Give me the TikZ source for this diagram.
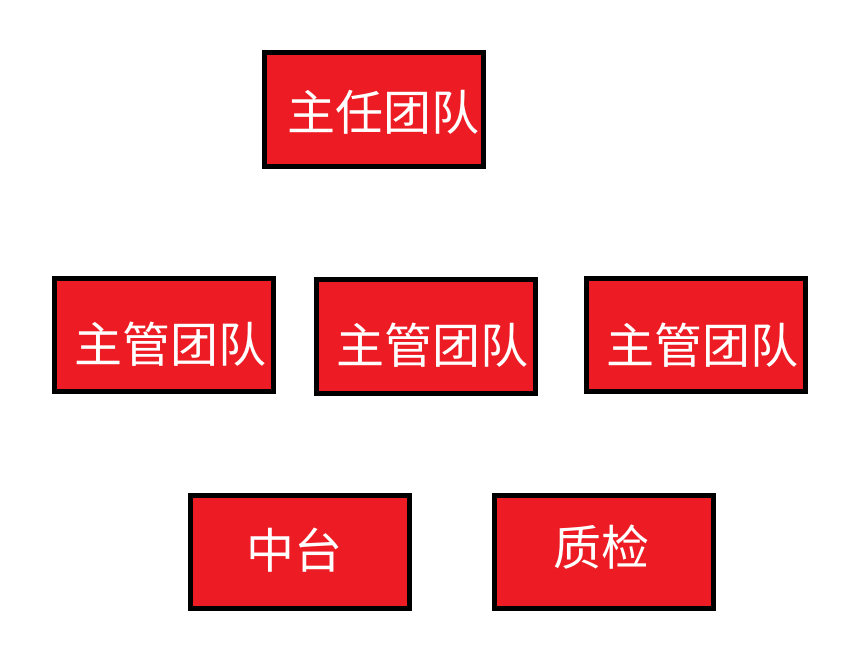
\documentclass[tikz,border=0pt]{standalone}
\usepackage{fontspec}
\newfontfamily\cjk{Noto Sans CJK SC}
\definecolor{boxred}{HTML}{ED1C24}
\begin{document}
\begin{tikzpicture}[x=1pt,y=-1pt,
  redbox/.style={draw=black,line width=5pt,fill=boxred,minimum width=219pt,minimum height=113.5pt,inner sep=0pt,anchor=center},
  boxtext/.style={text=white,font=\cjk\fontsize{48}{52}\selectfont,inner sep=0pt,anchor=center}]
\useasboundingbox (0,0) rectangle (865,669);
\node[redbox] (b1) at (374,109.3) {};
\node[redbox] (b2) at (164,335) {};
\node[redbox] (b3) at (426,336.5) {};
\node[redbox] (b4) at (696,335) {};
\node[redbox] (b5) at (300,552) {};
\node[redbox] (b6) at (604,552) {};
\node[boxtext] (t1) at (383,112) {主任团队};
\node[boxtext] (t2) at (170.5,344) {主管团队};
\node[boxtext] (t3) at (432,345) {主管团队};
\node[boxtext] (t4) at (702,345) {主管团队};
\node[boxtext] (t5) at (294.5,550) {中台};
\node[boxtext] (t6) at (601.5,547) {质检};
\end{tikzpicture}
\end{document}
